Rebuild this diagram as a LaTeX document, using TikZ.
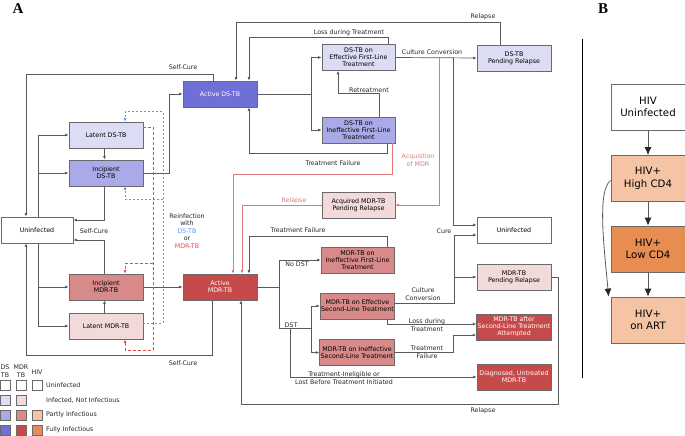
\documentclass[tikz,border=0pt]{standalone}
\usepackage{fontspec}
\setmainfont{DejaVu Sans}
\newfontfamily\panelfont{Liberation Serif}
\usetikzlibrary{calc,arrows.meta}

\definecolor{dslight}{HTML}{DCDCF4}
\definecolor{dsmid}{HTML}{AAAAE8}
\definecolor{dsdark}{HTML}{6F6FD8}
\definecolor{mdrlight}{HTML}{F2DADB}
\definecolor{mdrmid}{HTML}{D88A8A}
\definecolor{mdrdark}{HTML}{C64A4A}
\definecolor{hivmid}{HTML}{F4C4A4}
\definecolor{hivdark}{HTML}{E88D52}
\definecolor{boxgray}{HTML}{6A6A6A}
\definecolor{linegray}{HTML}{5A5A5A}
\definecolor{acqred}{HTML}{E07878}
\definecolor{reinfred}{HTML}{F04848}
\definecolor{reinfblue}{HTML}{5A96F0}

\tikzset{
  state/.style={draw=boxgray, line width=0.8pt, minimum width=74pt, minimum height=26pt,
    inner sep=1pt, align=center, font=\fontsize{6.3}{7.2}\selectfont},
  flow/.style={draw=linegray, line width=0.7pt, -{Latex[length=3.5pt,width=3pt]}},
  acq/.style={draw=acqred, line width=0.6pt, -{Latex[length=3.5pt,width=3pt]}},
  reinfMDR/.style={draw=reinfred, line width=0.7pt, dash pattern=on 3pt off 2pt, -{Latex[length=3.5pt,width=3pt]}},
  reinfDS/.style={draw=reinfblue, line width=0.7pt, dash pattern=on 2pt off 2pt, -{Latex[length=3.5pt,width=3pt]}},
  lbl/.style={align=center, inner sep=0pt, font=\fontsize{6.3}{7.6}\selectfont, text=black!85},
  legsq/.style={draw=boxgray, line width=0.6pt, minimum size=10pt, inner sep=0pt},
  hivbox/.style={draw=boxgray, line width=0.8pt, minimum width=74pt, minimum height=46pt,
    inner sep=1pt, align=center, font=\fontsize{10.2}{12.5}\selectfont},
  bigflow/.style={draw=linegray, line width=0.8pt, -{Latex[length=8pt,width=7pt,color=black!85]}},
  panel/.style={font=\panelfont\bfseries\fontsize{15}{15}\selectfont, inner sep=0pt}
}

\begin{document}
\begin{tikzpicture}[x=1pt,y=-1pt]
%%%%% START %%%%%
\useasboundingbox (0,0) rectangle (685,436);
\node[panel] (labA) at (18,9) {A};
\node[panel] (labB) at (603,9) {B};

% DS-TB side
\node[state, fill=dslight] (latDS) at (106,135) {Latent DS-TB};
\node[state, fill=dsmid] (incDS) at (106,173) {Incipient\\DS-TB};
\node[state, fill=dsdark, text=white] (actDS) at (220,94) {Active DS-TB};
\node[state, fill=white, minimum width=72pt] (uninfL) at (37,230) {Uninfected};
\node[state, fill=dslight, minimum width=73pt] (effDS) at (358.5,57.5) {DS-TB on\\Effective First-Line\\Treatment};
\node[state, fill=dsmid, minimum width=73pt] (ineffDS) at (358.5,130) {DS-TB on\\Ineffective First-Line\\Treatment};
\node[state, fill=dslight] (pendDS) at (514,58) {DS-TB\\Pending Relapse};

% MDR-TB side
\node[state, fill=mdrmid] (incMDR) at (106,287) {Incipient\\MDR-TB};
\node[state, fill=mdrlight] (latMDR) at (106,326) {Latent MDR-TB};
\node[state, fill=mdrdark, text=white] (actMDR) at (220,287) {Active\\MDR-TB};
\node[state, fill=mdrlight, minimum width=73pt] (acqMDR) at (358.5,205) {Acquired MDR-TB\\Pending Relapse};
\node[state, fill=mdrmid, minimum width=73pt] (ineffFL) at (357.5,260) {MDR-TB on\\Ineffective First-Line\\Treatment};
\node[state, fill=mdrmid, minimum width=73pt] (eff2L) at (357.5,306) {MDR-TB on Effective\\Second-Line Treatment};
\node[state, fill=mdrmid, minimum width=73pt] (ineff2L) at (357,352.5) {MDR-TB on Ineffective\\Second-Line Treatment};
\node[state, fill=white] (uninfR) at (514,230) {Uninfected};
\node[state, fill=mdrlight] (pendMDR) at (514,277) {MDR-TB\\Pending Relapse};
\node[state, fill=mdrdark, text=white] (after2L) at (514,327) {MDR-TB after\\Second-Line Treatment\\Attempted};
\node[state, fill=mdrdark, text=white] (diagMDR) at (514,377) {Diagnosed, Untreated\\MDR-TB};

% infection and progression
\draw[flow] ($(uninfL.north)+(1,0)$) |- (latDS.west);
\draw[flow] ($(uninfL.north)+(1,0)$) |- (incDS.west);
\draw[flow] ($(uninfL.south)+(1,0)$) |- (incMDR.west);
\draw[flow] ($(uninfL.south)+(1,0)$) |- (latMDR.west);
\draw[flow] ($(latDS.south)+(-1.5,0)$) -- ($(incDS.north)+(-1.5,0)$);
\draw[flow] ($(latMDR.north)+(-1.5,0)$) -- ($(incMDR.south)+(-1.5,0)$);
\draw[flow] (incDS.east) -- ++(26,0) |- (actDS.west);
\draw[flow] (incMDR.east) -- (actMDR.west);

% self-cure
\draw[flow] ($(incDS.south)+(-2,0)$) |- ($(uninfL.east)+(0,-10)$);
\draw[flow] ($(incMDR.north)+(-2,0)$) |- ($(uninfL.east)+(0,10)$);
\draw[flow] ($(actDS.north)+(-7,0)$) -- ++(0,-6) -| ($(uninfL.north)+(-11,0)$);
\draw[flow] ($(actMDR.south)+(-8,0)$) -- ++(0,55) -| ($(uninfL.south)+(-11,0)$);
\node[lbl] (scTop) at (183,67) {Self-Cure};
\node[lbl] (scMid) at (94,231) {Self-Cure};
\node[lbl] (scBot) at (183,363) {Self-Cure};

% reinfection
\draw[reinfDS] ($(latMDR.east)+(0,-3)$) -| ($(latDS.north)+(57,-10)$) -| ($(latDS.north)+(19,0)$);
\draw[reinfDS] ($(incDS.south)+(57,13)$) -| ($(incDS.south)+(19,0)$);
\draw[reinfMDR] ($(latDS.east)+(0,-8)$) -| ($(latMDR.south)+(47,11)$) -| ($(latMDR.south)+(19,0)$);
\draw[reinfMDR] ($(incMDR.north)+(47,-10)$) -| ($(incMDR.north)+(19,0)$);
\node[lbl] (reinf) at (187,231) {Reinfection\\with\\\textcolor{reinfblue}{DS-TB}\\or\\\textcolor{reinfred}{MDR-TB}};

% DS-TB treatment
\draw[flow] (actDS.east) -- ++(54,0) |- (effDS.west);
\draw[flow] (actDS.east) -- ++(54,0) |- (ineffDS.west);
\draw[flow] ($(effDS.north)+(29.5,0)$) -- ++(0,-7) -| ($(actDS.north)+(29,0)$);
\draw[flow] ($(pendDS.north)+(-14,0)$) -- ++(0,-22) -| ($(actDS.north)+(16,0)$);
\draw[flow] ($(ineffDS.north)+(20.5,0)$) -- ++(0,-23) -| ($(effDS.south)+(-20.5,0)$);
\draw[flow] ($(ineffDS.south)+(28.5,0)$) -- ++(0,10) -| ($(actDS.south)+(29,0)$);
\draw[flow] (effDS.east) -- (pendDS.west);
\draw[flow] ($(effDS.east)+(58,0)$) |- ($(uninfR.west)+(0,-5)$);
\node[lbl] (lossDS) at (349,33) {Loss during Treatment};
\node[lbl] (relDS) at (483,17) {Relapse};
\node[lbl] (retreat) at (369,90) {Retreatment};
\node[lbl] (failDS) at (333,163) {Treatment Failure};
\node[lbl] (ccDS) at (432,52) {Culture Conversion};
\node[lbl] (cure) at (444,231) {Cure};

% acquisition of MDR
\draw[acq] ($(effDS.east)+(44,0)$) |- (acqMDR.east);
\draw[acq] ($(ineffDS.south)+(33.5,0)$) -- ++(0,31) -| ($(actMDR.north)+(13,0)$);
\draw[acq] (acqMDR.west) -| ($(actMDR.north)+(22,0)$);
\node[lbl, text=acqred] (acqLbl) at (418,160) {Acquistion\\of MDR};
\node[lbl, text=acqred] (relAcq) at (294,201) {Relapse};

% MDR-TB treatment
\draw[flow] ($(ineffFL.north)+(29.5,0)$) -- ++(0,-10) -| ($(actMDR.north)+(29,0)$);
\draw[flow] (actMDR.east) -- ++(22,0) |- (ineffFL.west);
\draw[flow] (actMDR.east) -- ++(22,0) |- ++(32,41) |- (eff2L.west);
\draw[flow] (actMDR.east) -- ++(22,0) |- ++(32,41) |- (ineff2L.west);
\draw[flow] (actMDR.east) -- ++(22,0) |- ++(11,41) |- (diagMDR.west);
\draw[flow] ($(eff2L.east)+(0,-3)$) -- ++(59,0) |- ($(uninfR.west)+(0,5)$);
\draw[flow] ($(eff2L.east)+(0,-3)$) -- ++(59,0) |- (pendMDR.west);
\draw[flow] ($(eff2L.south)+(29.5,0)$) |- ($(after2L.west)+(0,-3)$);
\draw[flow] (ineff2L.east) -- ++(59,0) |- ($(after2L.west)+(0,8)$);
\draw[flow] (pendMDR.east) -- ++(7,0) -- ++(0,127) -| ($(actMDR.south)+(21,0)$);
\node[lbl] (failFL) at (298,230) {Treatment Failure};
\node[lbl] (noDST) at (297,264) {No DST};
\node[lbl] (dst) at (291,325) {DST};
\node[lbl] (ccMDR) at (423,294) {Culture\\Conversion};
\node[lbl] (lossMDR) at (427,325) {Loss during\\Treatment};
\node[lbl] (fail2L) at (427,352) {Treatment\\Failure};
\node[lbl] (inelig) at (344,378) {Treatment-Ineligible or\\Lost Before Treatment Initiated};
\node[lbl] (relMDR) at (483,411) {Relapse};

% legend
\node[lbl] (hdDS) at (5,371) {DS\\TB};
\node[lbl] (hdMDR) at (21,371) {MDR\\TB};
\node[lbl] (hdHIV) at (37,372) {HIV};
\node[legsq, fill=white] (lgDSa) at (5,385) {};
\node[legsq, fill=white] (lgMDRa) at (21,385) {};
\node[legsq, fill=white] (lgHIVa) at (37,385) {};
\node[legsq, fill=dslight] (lgDSb) at (5,400) {};
\node[legsq, fill=mdrlight] (lgMDRb) at (21,400) {};
\node[legsq, fill=dsmid] (lgDSc) at (5,415) {};
\node[legsq, fill=mdrmid] (lgMDRc) at (21,415) {};
\node[legsq, fill=hivmid] (lgHIVc) at (37,415) {};
\node[legsq, fill=dsdark] (lgDSd) at (5,430) {};
\node[legsq, fill=mdrdark] (lgMDRd) at (21,430) {};
\node[legsq, fill=hivdark] (lgHIVd) at (37,430) {};
\node[lbl, anchor=west] (lgTxta) at (46,385) {Uninfected};
\node[lbl, anchor=west] (lgTxtb) at (46,400) {Infected, Not Infectious};
\node[lbl, anchor=west] (lgTxtc) at (46,415) {Partly Infectious};
\node[lbl, anchor=west] (lgTxtd) at (46,430) {Fully Infectious};

% panel B
\coordinate (sepTop) at (582,39);
\coordinate (sepBot) at (582,378);
\draw[line width=0.8pt] (sepTop) -- (sepBot);
\node[hivbox, fill=white] (hivU) at (648,107) {HIV\\Uninfected};
\node[hivbox, fill=hivmid] (hivH) at (648,178.5) {HIV+\\High CD4};
\node[hivbox, fill=hivdark] (hivL) at (648,249) {HIV+\\Low CD4};
\node[hivbox, fill=hivmid] (hivA) at (648,320) {HIV+\\on ART};
\draw[bigflow] (hivU) -- (hivH);
\draw[bigflow] (hivH) -- (hivL);
\draw[bigflow] (hivL) -- (hivA);
\draw[bigflow] ($(hivH.west)+(0,2)$) .. controls +(-14,10) and +(-4,-45) .. ($(hivA.north west)+(-2,0)$);
%%%%% END %%%%%
\end{tikzpicture}
\end{document}
